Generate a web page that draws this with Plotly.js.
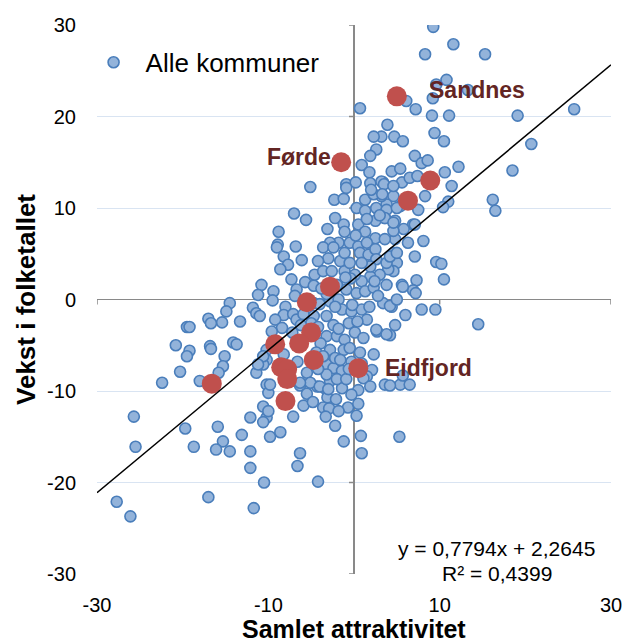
<!DOCTYPE html>
<html><head><meta charset="utf-8">
<script src="https://cdn.plot.ly/plotly-3.0.1.min.js"></script>
<style>html,body{margin:0;padding:0;background:#fff}#chart{width:624px;height:644px}</style>
</head><body><div id="chart"></div>
<script>
const blueX = [9.25,11.6,8.3,15.3,10.8,9.6,13.3,9.2,6.1,7.2,9.1,11.1,19.1,25.7,3.9,3.2,4.7,5.7,9.4,10.5,20.7,7.1,7.9,8.6,12.2,10.6,4.4,5.4,18.5,11.4,3.4,5.6,6.5,7.4,11.0,10.4,16.2,16.5,8.3,7.5,4.6,3.8,5.4,3.6,4.8,6.9,5.8,8.1,6.3,4.8,
0.7,2.3,2.6,1.9,0.9,1.8,-0.9,0.2,-5.1,1.9,3.2,-2.3,-1.2,1.3,3.2,-0.9,3.5,4.6,2.3,3.3,0.3,1.3,2.6,3.8,5.0,
-7.0,-5.6,-2.2,-1.2,-1.1,-3.1,-1.8,-2.8,0.5,1.3,2.5,3.6,4.6,2.5,3.6,4.6,-8.8,-8.9,-6.8,-0.5,0.5,1.5,-3.6,-2.4,-9.0,
-8.2,-7.7,-6.1,-8.6,-7.3,-4.6,-5.7,-4.7,-10.8,-11.2,-9.4,-9.5,-6.7,-6.9,-14.5,-14.9,-13.3,-15.4,-17.0,-16.7,-19.5,-19.2,-11.8,-11.4,-11.0,
-8.0,-8.2,-7.1,-9.2,-8.4,-9.6,-20.8,-16.8,-14.1,-13.7,-19.2,-19.5,-15.1,-15.3,-15.8,-20.3,-18.0,-22.4,-10.2,-10.6,-11.4,-10.2,-10.0,-10.6,-12.1,
-10.2,-25.7,-16.7,-25.5,-19.7,-18.7,-15.9,-15.3,-16.1,-14.5,-13.1,-12.1,-12.1,-27.7,-26.1,-17.0,-10.6,-9.8,-8.6,-7.1,-5.9,-10.5,-11.7,-6.3,-6.6,
-4.2,-6.3,-5.5,-10.0,-4.3,-3.4,-1.4,-2.8,-3.1,-2.1,-3.6,-2.9,-3.3,-0.7,0.5,0.3,0.5,-2.2,-1.2,0.8,0.9,3.6,5.4,6.5,5.3,
7.1,9.6,10.2,10.5,7.3,6.9,7.2,5.6,5.7,4.6,5.0,4.6,7.9,9.5,14.5,6.0,4.8,4.2,4.4,5.7,4.2,7.1,2.7,2.1,1.5,
-3.6,-2.6,-1.1,-1.6,-1.1,0.7,1.7,2.5,4.0,3.0,1.9,0.9,0.1,-4.7,-4.0,-2.8,-1.8,-0.9,0.3,1.3,2.3,3.4,4.2,5.0,
-6.7,-4.7,-3.2,-1.4,-0.3,0.9,1.5,2.6,3.8,-3.2,-2.0,-1.1,0.1,1.1,-2.8,-1.2,-0.5,0.7,2.3,-10.2,-10.6,-11.2,-8.2,
-3.2,-2.4,-1.4,-3.2,-2.0,-0.9,-5.5,-5.1,-4.0,-6.3,-9.8,1.1,1.9,2.6,3.8,1.9,0.9,4.2,5.0,
1.5,0.2,2.0,3.0,-3.0,-4.2,-0.5,-0.4,-5.0,-4.2,-2.4,-0.6,0.4,-1.8,-3.9,-4.4,-2.2,-0.3,0.9,-3.6,-1.6,-0.6,-4.2,-3.0,-0.3,-4.8,-1.8,-6.2,-6.6,-7.2,-5.9,-3.2,-2.0,-1.0,-3.8,-0.2,1.8,2.8,3.8,2.4,-2.2];
const blueY = [29.8,27.9,26.8,26.8,24.0,23.5,22.9,22.0,21.7,20.8,20.1,20.1,20.1,20.8,19.1,17.8,17.8,17.3,18.2,17.3,17.0,15.7,14.9,15.2,14.5,13.9,14.0,14.3,14.1,12.4,12.8,12.8,13.3,13.5,10.7,10.1,10.9,9.7,11.3,9.8,11.3,10.4,10.2,8.9,8.6,8.2,7.7,6.4,6.2,6.6,
20.9,17.8,16.4,15.7,14.7,13.9,12.6,12.8,12.3,12.7,12.9,10.9,11.0,10.9,11.3,12.2,12.6,12.4,11.5,11.5,10.0,9.7,10.0,9.8,10.0,
9.4,8.7,8.9,8.2,7.4,7.7,6.2,6.2,8.2,7.4,6.7,6.6,7.5,8.6,8.9,8.4,7.4,6.0,5.8,6.2,5.8,6.2,5.7,5.7,5.7,
4.7,3.8,4.3,3.3,2.2,2.7,1.9,1.5,1.6,0.5,0.9,-0.1,1.1,0.4,-0.4,-1.3,-2.4,-2.5,-2.1,-2.6,-3.0,-3.0,-0.9,-1.5,-1.8,
-0.8,-1.7,-1.6,-2.2,-3.1,-3.5,-5.0,-5.1,-4.7,-4.9,-5.6,-6.2,-6.2,-7.3,-8.0,-7.9,-8.9,-9.1,-6.6,-7.1,-8.0,-9.3,-10.2,-11.7,-12.9,
-12.9,-12.8,-5.4,-16.1,-14.1,-16.1,-13.9,-15.5,-16.4,-16.6,-14.8,-16.6,-18.4,-22.1,-23.7,-21.6,-13.4,-15.0,-14.5,-12.8,-11.6,-20.0,-22.8,-16.8,-18.2,
-19.9,-9.4,-10.3,-12.2,-9.5,-9.7,-9.7,-8.9,-10.7,-10.9,-11.8,-11.9,-12.8,-11.8,-11.4,-12.7,-9.9,-13.8,-15.5,-14.9,-16.8,-9.3,-9.3,-9.3,-15.0,
4.7,4.1,3.9,2.2,2.1,1.0,0.7,1.6,1.4,5.1,4.0,3.1,-1.1,-1.1,-2.7,-1.7,-2.8,-3.9,-0.8,-8.3,-9.4,8.2,-3.5,-7.7,-8.4,
3.1,3.1,3.1,4.2,5.1,5.1,4.9,5.5,3.3,2.7,2.5,2.0,2.7,-0.4,-0.5,-0.2,0.0,1.1,0.7,0.9,1.3,-0.4,-0.7,0.0,
-2.2,-1.8,-1.8,-1.1,-1.3,-1.1,-2.2,-3.3,-3.8,-4.0,-4.0,-4.4,-3.6,-4.2,-5.5,-5.5,-5.3,-5.8,-6.0,-5.5,-6.2,-7.1,-6.0,
-7.1,-7.5,-7.8,-8.2,-8.7,-8.7,-8.0,-9.1,-9.5,-9.1,-9.3,-8.6,-9.5,4.4,4.0,3.6,4.0,4.7,5.1,
8.8,7.0,12.0,9.2,4.5,4.2,4.0,2.3,-2.6,-3.0,-2.8,-2.6,-2.4,-3.2,-4.8,-5.8,-6.4,-6.8,-7.0,-6.2,-6.6,-7.6,-7.6,-9.8,-10.4,-11.2,-12.2,-2.8,-6.8,-3.6,-1.6,0.6,1.6,2.4,1.2,-0.6,-0.8,0.4,1.6,2.0,-0.8];

const redX = [5.0,-1.5,8.9,6.3,-2.8,-5.5,-5.0,-6.4,-9.2,-4.7,-8.5,-7.8,-7.8,-8.0,0.5,-16.6];
const redY = [22.2,15.0,13.0,10.8,1.4,-0.3,-3.6,-4.8,-4.9,-6.6,-7.4,-7.6,-8.7,-11.1,-7.5,-9.2];

const labelNames = ["Sandnes", "Førde", "Eidfjord"];
const labelX = [5.0, -1.5, 0.5];
const labelY = [22.2, 15.0, -7.5];

const slope = 0.7794, intercept = 2.2645;
const eqLines = ["y = 0,7794x + 2,2645", "R² = 0,4399"];
const xTicks = [-30, -10, 10, 30];
const yTicks = [-30, -20, -10, 0, 10, 20, 30];
const axisRange = [-30, 30];
const legendName = "Alle kommuner";
const xTitle = "Samlet attraktivitet";
const yTitle = "Vekst i folketallet";

const FONT = "Liberation Sans, Arial, sans-serif";
const AXIS_GRAY = "#898989";

const traces = [
  {type: "scatter", mode: "markers", x: blueX, y: blueY, name: legendName,
   marker: {size: 11, color: "#93b3da", line: {color: "#4a7ebb", width: 1.6}},
   hoverinfo: "skip"},
  {type: "scatter", mode: "markers", x: redX, y: redY, showlegend: false,
   marker: {size: 20, color: "#c0504d", line: {color: "#c0504d", width: 0}},
   hoverinfo: "skip"},
  {type: "scatter", mode: "lines", x: axisRange, y: axisRange.map(v => slope * v + intercept),
   showlegend: false, line: {color: "#000000", width: 1.5}, hoverinfo: "skip"}
];

const shapes = [];
yTicks.forEach(v => shapes.push({type: "line", layer: "between", xref: "x", yref: "y",
  xsizemode: "pixel", xanchor: 0, x0: -5, x1: 0, y0: v, y1: v,
  line: {color: AXIS_GRAY, width: 1.5}}));
xTicks.forEach(v => shapes.push({type: "line", layer: "between", xref: "x", yref: "y",
  ysizemode: "pixel", yanchor: 0, y0: 0, y1: -5, x0: v, x1: v,
  line: {color: AXIS_GRAY, width: 1.5}}));

const labelShift = [{xa: "left", dx: 30, dy: 6}, {xa: "right", dx: -8, dy: 5}, {xa: "left", dx: 25, dy: 0}];
const annotations = labelNames.map((n, i) => ({
  text: n, x: labelX[i], y: labelY[i], xref: "x", yref: "y", showarrow: false,
  xanchor: labelShift[i].xa, yanchor: "middle", xshift: labelShift[i].dx, yshift: labelShift[i].dy,
  font: {family: FONT, size: 23, color: "#632523", weight: "bold"}
}));
const eqY = [0.046, 0.0015];
eqLines.forEach((t, i) => annotations.push({
  text: t, x: 0.778, y: eqY[i], xref: "paper", yref: "paper", showarrow: false,
  xanchor: "center", yanchor: "middle", font: {family: FONT, size: 21, color: "#000"}
}));
// x-axis title, placed at the bottom edge of the figure
annotations.push({
  text: xTitle, x: 0.5, y: -70 / 549, xref: "paper", yref: "paper", showarrow: false,
  xanchor: "center", yanchor: "bottom", borderpad: 0, yshift: 0,
  font: {family: FONT, size: 25, color: "#000", weight: "bold"}
});

const layout = {
  width: 624, height: 644,
  margin: {l: 97, r: 13, t: 25, b: 70, pad: 0},
  paper_bgcolor: "#ffffff", plot_bgcolor: "#ffffff",
  font: {family: FONT, size: 20, color: "#000"},
  showlegend: true,
  legend: {x: -0.03, y: 0.932, xanchor: "left", yanchor: "middle", bgcolor: "rgba(0,0,0,0)",
           font: {family: FONT, size: 26, color: "#000"}, itemwidth: 54},
  xaxis: {range: axisRange, tickvals: xTicks, ticktext: xTicks.map(String), ticks: "", showgrid: false, showline: false,
          zeroline: true, zerolinecolor: AXIS_GRAY, zerolinewidth: 1.5,
          tickfont: {family: FONT, size: 20, color: "#000"}, ticklabelstandoff: 17,
          fixedrange: true},
  yaxis: {range: axisRange, tickvals: yTicks, ticktext: yTicks.map(String), ticks: "", showgrid: true, gridcolor: "#d9e4f2", gridwidth: 1,
          showline: false, zeroline: true, zerolinecolor: AXIS_GRAY, zerolinewidth: 1.5,
          tickfont: {family: FONT, size: 20, color: "#000"}, ticklabelstandoff: 20,
          title: {text: yTitle, standoff: 3, font: {family: FONT, size: 26, color: "#000", weight: "bold"}},
          fixedrange: true},
  shapes: shapes,
  annotations: annotations
};

Plotly.newPlot("chart", traces, layout, {staticPlot: true, displayModeBar: false});
</script>
</body></html>
